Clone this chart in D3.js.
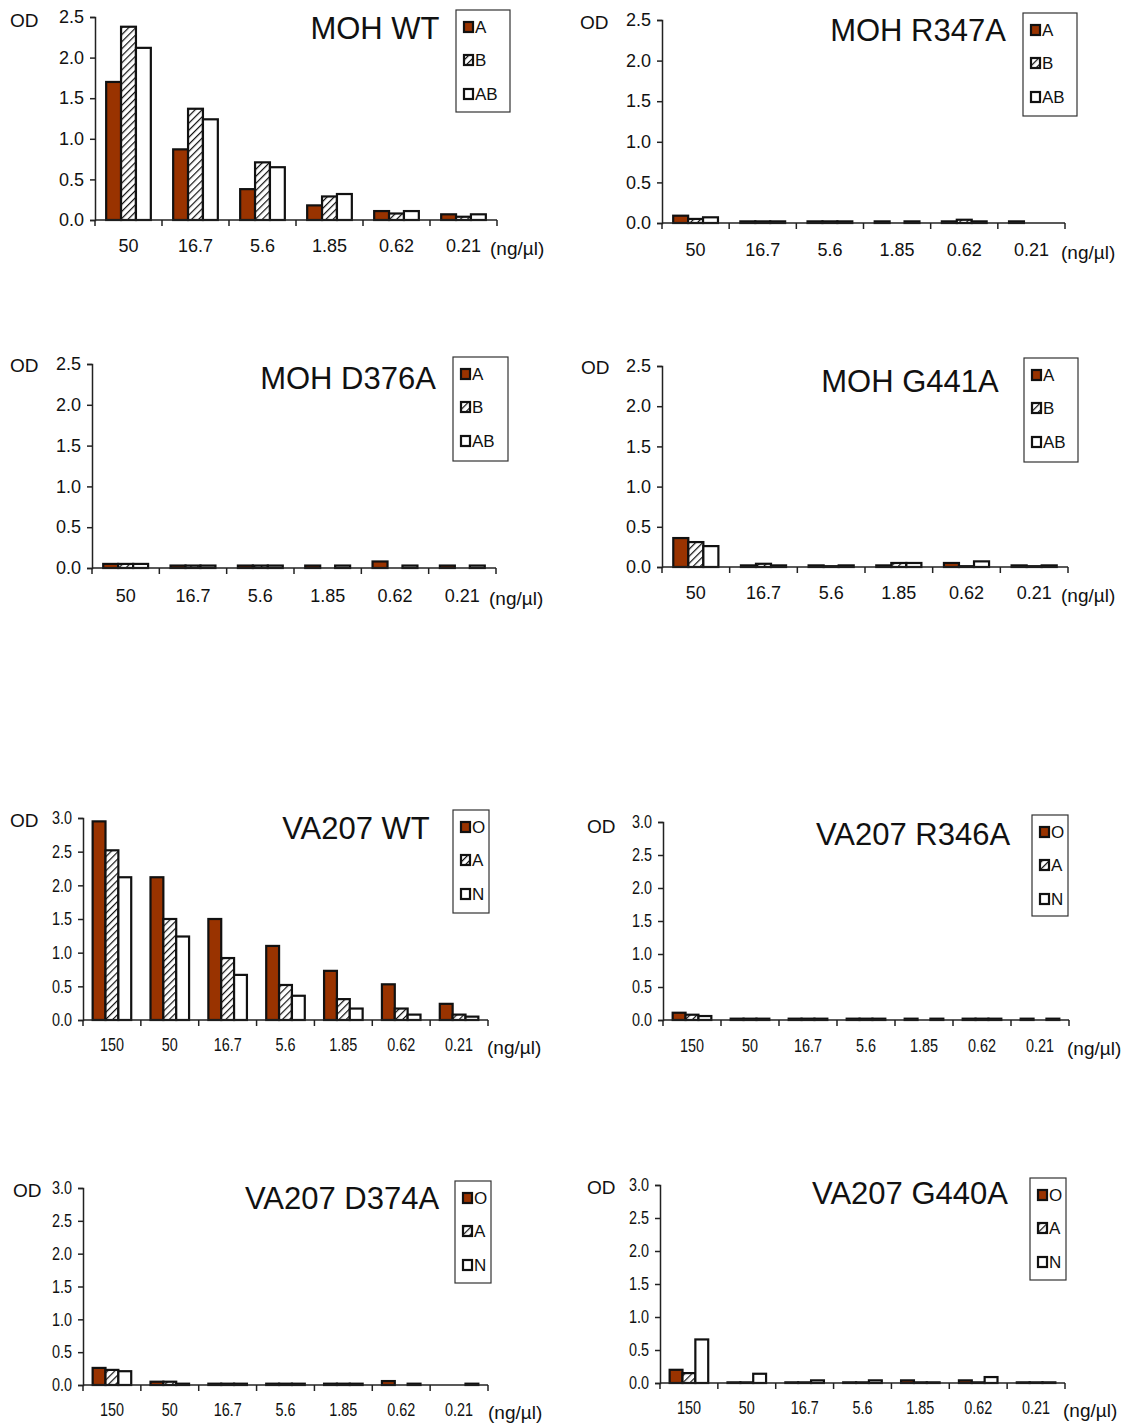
<html>
<head>
<script src="https://d3js.org/d3.v7.min.js"></script>
<style>
body { margin: 0; background: white; }
text { font-family: "Liberation Sans", Arial, sans-serif; fill: #111; }
</style>
</head>
<body>
<svg id="chart" width="1127" height="1425"></svg>
<script>
// categories (ng/ul)
var mohCats = ["50", "16.7", "5.6", "1.85", "0.62", "0.21"];
var vaCats = ["150", "50", "16.7", "5.6", "1.85", "0.62", "0.21"];
var mohSeries = ["A", "B", "AB"];
var vaSeries = ["O", "A", "N"];
var mohTicks = [0, 0.5, 1.0, 1.5, 2.0, 2.5];
var vaTicks = [0, 0.5, 1.0, 1.5, 2.0, 2.5, 3.0];

// OD values, one array per series
var mohWT_A  = [1.70, 0.87, 0.38, 0.18, 0.11, 0.07];
var mohWT_B  = [2.38, 1.37, 0.71, 0.29, 0.08, 0.04];
var mohWT_AB = [2.12, 1.24, 0.65, 0.32, 0.11, 0.07];

var mohR347A_A  = [0.09, 0.02, 0.02, 0.02, 0.02, 0.02];
var mohR347A_B  = [0.05, 0.02, 0.02, 0.00, 0.04, 0.00];
var mohR347A_AB = [0.07, 0.02, 0.02, 0.02, 0.02, 0.00];

var mohD376A_A  = [0.05, 0.03, 0.03, 0.03, 0.08, 0.03];
var mohD376A_B  = [0.05, 0.03, 0.03, 0.00, 0.00, 0.00];
var mohD376A_AB = [0.05, 0.03, 0.03, 0.03, 0.03, 0.03];

var mohG441A_A  = [0.36, 0.02, 0.02, 0.02, 0.05, 0.02];
var mohG441A_B  = [0.31, 0.04, 0.01, 0.05, 0.01, 0.01];
var mohG441A_AB = [0.26, 0.02, 0.02, 0.05, 0.07, 0.02];

var vaWT_O = [2.95, 2.12, 1.50, 1.10, 0.73, 0.53, 0.24];
var vaWT_A = [2.52, 1.50, 0.92, 0.52, 0.31, 0.17, 0.08];
var vaWT_N = [2.12, 1.24, 0.67, 0.36, 0.17, 0.08, 0.05];

var vaR346A_O = [0.11, 0.02, 0.02, 0.02, 0.02, 0.02, 0.02];
var vaR346A_A = [0.08, 0.02, 0.02, 0.02, 0.00, 0.02, 0.00];
var vaR346A_N = [0.06, 0.02, 0.02, 0.02, 0.02, 0.02, 0.02];

var vaD374A_O = [0.26, 0.05, 0.02, 0.02, 0.02, 0.06, 0.00];
var vaD374A_A = [0.23, 0.05, 0.02, 0.02, 0.02, 0.00, 0.00];
var vaD374A_N = [0.21, 0.02, 0.02, 0.02, 0.02, 0.02, 0.02];

var vaG440A_O = [0.20, 0.01, 0.01, 0.01, 0.04, 0.04, 0.01];
var vaG440A_A = [0.15, 0.01, 0.01, 0.01, 0.01, 0.01, 0.01];
var vaG440A_N = [0.66, 0.14, 0.04, 0.04, 0.01, 0.09, 0.01];

var fills = ["#993300", "url(#hatch)", "white"];

// panel layout
var panels = [
  {title: "MOH WT", cats: mohCats, series: mohSeries, ticks: mohTicks, max: 2.5, vals: [mohWT_A, mohWT_B, mohWT_AB],
   ax: 95, ax1: 497, yT: 17, yB: 220, tx: 375, ty: 28, lg: [456, 10, 54, 102], od: [10, 20], xl: 248, unit: 490},
  {title: "MOH R347A", cats: mohCats, series: mohSeries, ticks: mohTicks, max: 2.5, vals: [mohR347A_A, mohR347A_B, mohR347A_AB],
   ax: 662, ax1: 1065, yT: 20, yB: 223, tx: 918, ty: 30, lg: [1023, 13, 54, 103], od: [580, 22], xl: 252, unit: 1061},
  {title: "MOH D376A", cats: mohCats, series: mohSeries, ticks: mohTicks, max: 2.5, vals: [mohD376A_A, mohD376A_B, mohD376A_AB],
   ax: 92, ax1: 496, yT: 364, yB: 568, tx: 348, ty: 378, lg: [453, 357, 55, 104], od: [10, 365], xl: 598, unit: 489},
  {title: "MOH G441A", cats: mohCats, series: mohSeries, ticks: mohTicks, max: 2.5, vals: [mohG441A_A, mohG441A_B, mohG441A_AB],
   ax: 662, ax1: 1068, yT: 366, yB: 567, tx: 910, ty: 381, lg: [1024, 358, 54, 104], od: [581, 367], xl: 595, unit: 1061},
  {title: "VA207 WT", cats: vaCats, series: vaSeries, ticks: vaTicks, max: 3.0, vals: [vaWT_O, vaWT_A, vaWT_N], narrow: true,
   ax: 83, ax1: 488, yT: 818, yB: 1020, tx: 356, ty: 828, lg: [453, 810, 36, 103], od: [10, 820], xl: 1047, unit: 487},
  {title: "VA207 R346A", cats: vaCats, series: vaSeries, ticks: vaTicks, max: 3.0, vals: [vaR346A_O, vaR346A_A, vaR346A_N], narrow: true,
   ax: 663, ax1: 1069, yT: 822, yB: 1020, tx: 913, ty: 834, lg: [1032, 815, 36, 101], od: [587, 826], xl: 1048, unit: 1067},
  {title: "VA207 D374A", cats: vaCats, series: vaSeries, ticks: vaTicks, max: 3.0, vals: [vaD374A_O, vaD374A_A, vaD374A_N], narrow: true,
   ax: 83, ax1: 488, yT: 1188, yB: 1385, tx: 342, ty: 1198, lg: [455, 1181, 36, 102], od: [13, 1190], xl: 1412, unit: 488},
  {title: "VA207 G440A", cats: vaCats, series: vaSeries, ticks: vaTicks, max: 3.0, vals: [vaG440A_O, vaG440A_A, vaG440A_N], narrow: true,
   ax: 660, ax1: 1065, yT: 1185, yB: 1383, tx: 910, ty: 1193, lg: [1030, 1178, 36, 102], od: [587, 1187], xl: 1410, unit: 1063}
];

var svg = d3.select("#chart");

// diagonal hatch for second series
var pat = svg.append("defs").append("pattern")
  .attr("id", "hatch")
  .attr("patternUnits", "userSpaceOnUse")
  .attr("width", 5).attr("height", 5)
  .attr("patternTransform", "rotate(45)");
pat.append("rect").attr("width", 5).attr("height", 5).attr("fill", "white");
pat.append("line").attr("x1", 0).attr("y1", 0).attr("x2", 0).attr("y2", 5)
  .attr("stroke", "#111").attr("stroke-width", 2.4);

panels.forEach(function(p) {
  var g = svg.append("g");

  var x = d3.scaleBand().domain(p.cats).range([p.ax, p.ax1]);
  var y = d3.scaleLinear().domain([0, p.max]).range([p.yB, p.yT]);
  var bw = x.bandwidth() / 4.5;
  var sub = d3.scaleBand().domain(p.series).range([0.75 * bw, 3.75 * bw]);

  // bars, one group per series
  p.series.forEach(function(s, si) {
    var rows = p.vals[si].map(function(v, i) { return {v: v, c: p.cats[i]}; })
      .filter(function(d) { return d.v > 0; });
    g.append("g").selectAll("rect")
      .data(rows)
      .enter().append("rect")
      .attr("x", function(d) { return x(d.c) + sub(s); })
      .attr("y", function(d) { return y(d.v); })
      .attr("height", function(d) { return y(0) - y(d.v); })
      .attr("width", sub.bandwidth())
      .attr("fill", fills[si])
      .attr("stroke", "#111")
      .attr("stroke-width", 2.2);
  });

  // narrow tick text for VA207 panels
  var sx = p.narrow ? 0.8 : 1;

  // y axis
  var ya = g.append("g")
    .attr("transform", "translate(" + p.ax + ",0)")
    .call(d3.axisLeft(y).tickValues(p.ticks).tickFormat(d3.format(".1f")).tickSize(5).tickPadding(6));
  ya.selectAll("text").style("font-size", "18px")
    .attr("x", -11 / sx)
    .attr("transform", "scale(" + sx + ",1)");
  ya.selectAll("line, path").attr("stroke", "#222").attr("stroke-width", 1.5);

  // x axis labels
  var xa = g.append("g")
    .attr("transform", "translate(0," + p.yB + ")")
    .call(d3.axisBottom(x).tickSize(0).tickPadding(p.xl - p.yB - 9));
  xa.selectAll("text").style("font-size", "18px")
    .attr("transform", "scale(" + sx + ",1)");
  xa.select("path").attr("stroke", "#222").attr("stroke-width", 1.5).attr("d", "M" + p.ax + ",0H" + p.ax1);

  // category boundary ticks
  var edges = p.cats.map(function(c) { return x(c); }).concat([p.ax1]);
  g.append("g").selectAll("line")
    .data(edges).enter().append("line")
    .attr("x1", function(d) { return d; }).attr("x2", function(d) { return d; })
    .attr("y1", p.yB).attr("y2", p.yB + 6)
    .attr("stroke", "#222").attr("stroke-width", 1.5);

  g.append("text")
    .attr("x", p.unit).attr("y", p.xl + 7)
    .style("font-size", "19px")
    .text("(ng/\u00b5l)");

  g.append("text")
    .attr("x", p.od[0]).attr("y", p.od[1] + 7)
    .style("font-size", "19px")
    .text("OD");

  g.append("text")
    .attr("x", p.tx).attr("y", p.ty + 11)
    .attr("text-anchor", "middle")
    .style("font-size", "31px")
    .text(p.title);

  // legend
  var lg = g.append("g");
  lg.append("rect")
    .attr("x", p.lg[0]).attr("y", p.lg[1]).attr("width", p.lg[2]).attr("height", p.lg[3])
    .attr("fill", "white").attr("stroke", "#333").attr("stroke-width", 1.2);
  var rowY = [17, 50, 84];
  p.series.forEach(function(s, si) {
    lg.append("rect")
      .attr("x", p.lg[0] + 8).attr("y", p.lg[1] + rowY[si] - 5)
      .attr("width", 9).attr("height", 10)
      .attr("fill", fills[si]).attr("stroke", "#111").attr("stroke-width", 2.2);
    lg.append("text")
      .attr("x", p.lg[0] + 19).attr("y", p.lg[1] + rowY[si] + 6)
      .style("font-size", "17px")
      .text(s);
  });
});
</script>
</body>
</html>
